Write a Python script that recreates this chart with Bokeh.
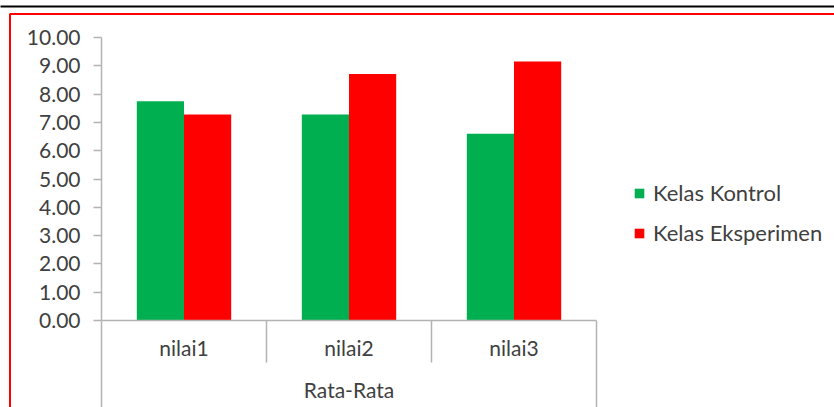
from bokeh.plotting import figure
from bokeh.models import (Range1d, FixedTicker, LinearAxis, Legend, LegendItem,
                          ColumnDataSource, NumeralTickFormatter)
from bokeh.core.properties import value
from bokeh.transform import dodge
from bokeh.embed import file_html
from bokeh.resources import INLINE

categories = ["nilai1", "nilai2", "nilai3"]
group_label = "Rata-Rata"
series_names = ["Kelas Kontrol", "Kelas Eksperimen"]
kontrol = [7.75, 7.28, 6.60]
eksperimen = [7.28, 8.71, 9.15]
y_ticks = [0, 1, 2, 3, 4, 5, 6, 7, 8, 9, 10]

FONT = "Lato"
FS = "21px"
TXT = "#404040"
GRID = "#b3b3b3"

W, H = 834, 407
L, R, T, B = 101, 596, 37, 320   # plot area of the categories

n = len(categories)
pos = [i + 0.5 for i in range(n)]
src = ColumnDataSource(dict(x=pos, k=kontrol, e=eksperimen))

# frame runs to the right edge so the legend can sit inside it;
# the categories occupy [0, n] which maps to L..R
x_end = n * (W - L) / (R - L)
p = figure(width=W, height=H, output_backend="svg", toolbar_location=None,
           x_range=Range1d(0, x_end), y_range=Range1d(0, 10),
           min_border_left=L, min_border_right=0, min_border_top=T,
           min_border_bottom=H - B, x_axis_type=None, y_axis_type=None)
p.outline_line_color = None
p.background_fill_color = "white"
p.border_fill_color = "white"
# pixel-space helper ranges for decorations outside the plot area
p.extra_x_ranges = {"px": Range1d(L, W)}
p.extra_y_ranges = {"py": Range1d(B, T)}

r1 = p.vbar(x=dodge("x", -0.143, range=p.x_range), top="k", width=0.286,
            source=src, fill_color="#00b050", line_color=None)
r2 = p.vbar(x=dodge("x", 0.143, range=p.x_range), top="e", width=0.286,
            source=src, fill_color="#ff0000", line_color=None)

# Y axis
ya = LinearAxis(ticker=FixedTicker(ticks=y_ticks, minor_ticks=[]),
                formatter=NumeralTickFormatter(format="0.00"))
ya.axis_line_color = GRID
ya.axis_line_width = 1.5
ya.major_tick_line_color = GRID
ya.major_tick_line_width = 1.5
ya.major_tick_out = 8
ya.major_tick_in = 0
ya.major_label_standoff = 13
ya.major_label_text_font = FONT
ya.major_label_text_font_size = FS
ya.major_label_text_color = TXT
p.add_layout(ya, "left")

# X axis (category labels at centres)
xa = LinearAxis(ticker=FixedTicker(ticks=pos, minor_ticks=[]),
                major_label_overrides={pos[i]: c for i, c in enumerate(categories)},
                bounds=(0, n))
xa.axis_line_color = GRID
xa.axis_line_width = 1.5
xa.major_tick_out = 0
xa.major_tick_in = 0
xa.major_tick_line_color = None
xa.major_label_standoff = 14
xa.major_label_text_font = FONT
xa.major_label_text_font_size = FS
xa.major_label_text_color = TXT
p.add_layout(xa, "below")

p.ygrid.ticker = FixedTicker(ticks=y_ticks)
p.ygrid.grid_line_color = GRID
p.ygrid.grid_line_width = 1.5
p.ygrid.cross_bounds = (0, n)
p.xgrid.grid_line_color = None

# category separators below the plot area (outer ones run to the bottom)
bounds = list(range(n + 1))
sep_end = [H + 20 if b in (0, n) else 362 for b in bounds]
seg = p.segment(x0=bounds, y0=[B] * len(bounds), x1=bounds, y1=sep_end,
                y_range_name="py", line_color=GRID, line_width=1.5)
seg.level = "overlay"

# group label centred under the categories
gl = p.text(x=[n / 2], y=[389], text=[group_label], y_range_name="py",
            text_align="center", text_baseline="middle",
            text_font=value(FONT), text_font_size=FS, text_color=TXT)
gl.level = "overlay"

# chart-area decorations: black rule at top, red chart border
q1 = p.quad(left=[0], right=[W], top=[5], bottom=[7], x_range_name="px",
            y_range_name="py", fill_color="black", line_color=None)
q1.level = "overlay"
q2 = p.quad(left=[9.5], right=[W + 50], top=[13.5], bottom=[H + 50], x_range_name="px",
            y_range_name="py", fill_color=None, line_color="#ff0000", line_width=2)
q2.level = "overlay"

legend = Legend(items=[LegendItem(label=series_names[0], renderers=[r1]),
                       LegendItem(label=series_names[1], renderers=[r2])],
                location=(532, 74))
legend.glyph_width = 12
legend.glyph_height = 12
legend.label_standoff = 8
legend.label_height = 20
legend.spacing = 13
legend.padding = 0
legend.margin = 0
legend.border_line_color = None
legend.background_fill_alpha = 0
legend.label_text_font = FONT
legend.label_text_font_size = "22px"
legend.label_text_color = TXT
p.add_layout(legend, "center")

open("out.html", "w").write(file_html(p, INLINE))
